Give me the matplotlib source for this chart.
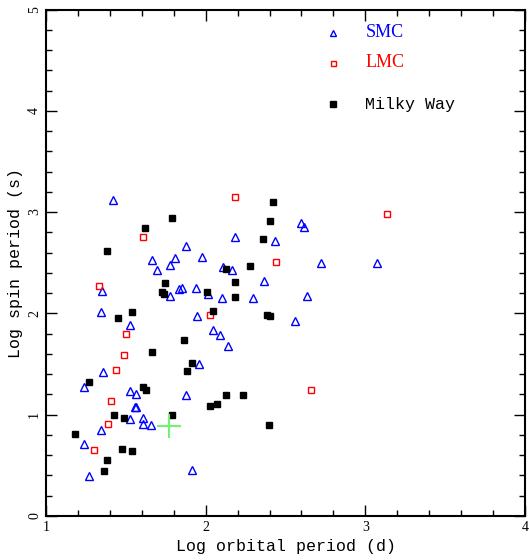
import matplotlib
matplotlib.use("Agg")
import matplotlib.pyplot as plt
from matplotlib.ticker import MultipleLocator

# SMC (open blue triangles)
smc_x = [1.421, 1.666, 1.806, 1.695, 1.778, 1.778, 1.833, 1.353, 1.343, 1.526,
         1.355, 1.238, 1.528, 1.564, 1.559, 1.564, 1.528, 1.608, 1.605, 1.657,
         1.346, 1.238, 1.271, 2.599, 2.618, 2.185, 2.434, 1.879, 1.975, 2.72,
         2.106, 2.166, 2.365, 1.941, 1.852, 2.016, 2.1, 2.298, 2.632, 1.947,
         2.561, 2.048, 2.09, 2.142, 1.96, 1.879, 1.916, 3.07]
smc_y = [3.123, 2.522, 2.545, 2.426, 2.475, 2.167, 2.239, 2.223, 2.016, 1.884,
         1.417, 1.272, 1.23, 1.203, 1.072, 1.072, 0.96, 0.97, 0.911, 0.897,
         0.848, 0.71, 0.389, 2.89, 2.85, 2.758, 2.712, 2.663, 2.551, 2.492,
         2.456, 2.43, 2.315, 2.252, 2.245, 2.189, 2.147, 2.154, 2.173, 1.969,
         1.927, 1.831, 1.782, 1.68, 1.503, 1.197, 0.448, 2.492]

# LMC (open red squares)
lmc_x = [1.605, 1.334, 1.501, 1.49, 1.44, 1.407, 1.39, 1.303, 2.183, 2.44,
         2.029, 2.657, 3.135]
lmc_y = [2.758, 2.272, 1.792, 1.585, 1.437, 1.138, 0.904, 0.645, 3.153, 2.502,
         1.982, 1.24, 2.982]

# Milky Way (filled black squares)
mw_x = [1.789, 1.618, 1.382, 1.743, 1.726, 1.737, 1.449, 1.539, 1.666, 1.271,
        1.605, 1.628, 1.426, 1.488, 1.789, 1.183, 1.476, 1.539, 1.384, 1.361,
        2.421, 2.403, 2.359, 2.277, 2.127, 2.183, 2.006, 2.183, 2.046, 2.386,
        2.403, 1.864, 1.914, 1.883, 2.127, 2.234, 2.027, 2.071, 2.396]
mw_y = [2.94, 2.844, 2.613, 2.302, 2.209, 2.186, 1.953, 2.009, 1.621, 1.325,
        1.272, 1.24, 0.996, 0.967, 0.996, 0.806, 0.655, 0.641, 0.552, 0.444,
        3.094, 2.916, 2.729, 2.463, 2.436, 2.312, 2.209, 2.16, 2.022, 1.982,
        1.972, 1.74, 1.509, 1.43, 1.193, 1.197, 1.089, 1.102, 0.895]

# special source (green cross)
cross_x = [1.77]
cross_y = [0.885]

legend_names = ["SMC", "LMC", "Milky Way"]

fig = plt.figure(figsize=(5.29, 5.6), dpi=100)
ax = fig.add_axes([0.087, 0.079, 0.9055, 0.904])

ax.plot(smc_x, smc_y, linestyle="none", marker="^", ms=5.2, mfc="none",
        mec="blue", mew=1.0)
ax.plot(lmc_x, lmc_y, linestyle="none", marker="s", ms=4.2, mfc="none",
        mec="red", mew=1.0)
ax.plot(mw_x, mw_y, linestyle="none", marker="s", ms=4.8, color="black")
ax.plot(cross_x, cross_y, linestyle="none", marker="+", ms=17, mew=1.6,
        color="#77ee77")

# legend drawn by hand
ax.plot([2.797], [4.77], marker="^", ms=4.2, mfc="none", mec="blue", mew=1.0)
ax.plot([2.797], [4.474], marker="s", ms=3.6, mfc="none", mec="red", mew=1.0)
ax.plot([2.797], [4.07], marker="s", ms=4.4, color="black")
ax.text(3.0, 4.77, legend_names[0], color="blue", fontsize=13,
        family="Liberation Serif", va="center")
ax.text(3.0, 4.474, legend_names[1], color="red", fontsize=13,
        family="Liberation Serif", va="center")
ax.text(3.0, 4.06, legend_names[2], color="black", fontsize=12,
        family="Liberation Mono", va="center")

ax.set_xlim(1, 4)
ax.set_ylim(0, 5)
ax.xaxis.set_major_locator(MultipleLocator(1))
ax.xaxis.set_minor_locator(MultipleLocator(0.2))
ax.yaxis.set_major_locator(MultipleLocator(1))
ax.yaxis.set_minor_locator(MultipleLocator(0.2))
ax.tick_params(which="both", direction="in", top=True, right=True,
               width=1.0, labelsize=10)
ax.tick_params(which="major", length=8)
ax.tick_params(which="minor", length=4)
for lab in ax.get_xticklabels() + ax.get_yticklabels():
    lab.set_family("Liberation Serif")
for lab in ax.get_yticklabels():
    lab.set_rotation(90)
    lab.set_va("center")
for s in ax.spines.values():
    s.set_linewidth(1.5)

ax.set_xlabel("Log orbital period (d)", family="Liberation Mono", fontsize=12,
              labelpad=4)
ax.set_ylabel("Log spin period (s)", family="Liberation Mono", fontsize=12,
              labelpad=4)

fig.savefig("out.png", dpi=100)
